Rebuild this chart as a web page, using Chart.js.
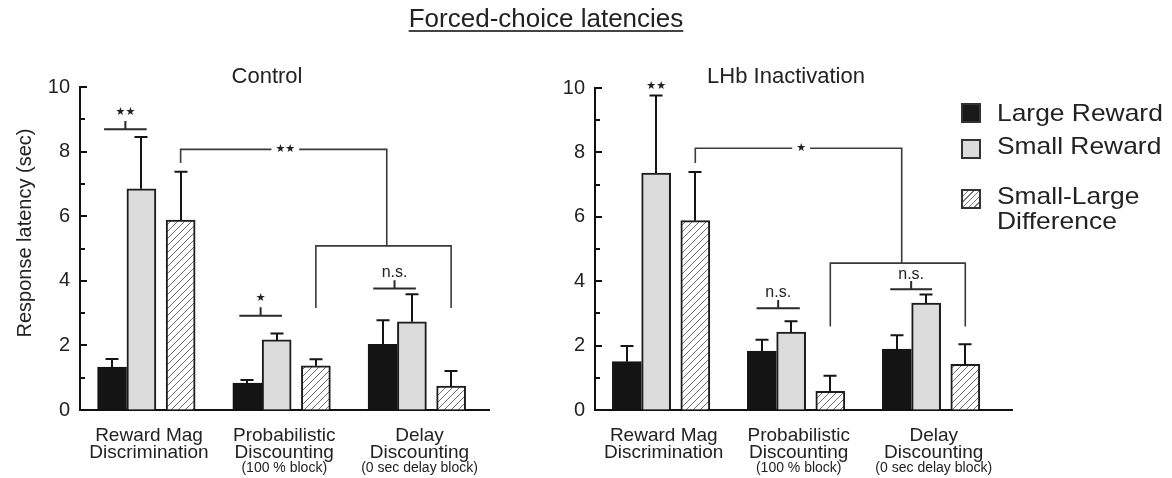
<!DOCTYPE html>
<html>
<head>
<meta charset="utf-8">
<script src="https://cdn.jsdelivr.net/npm/chart.js@4.4.1/dist/chart.umd.min.js"></script>
<style>
html,body{margin:0;padding:0;background:#fff;}
body{width:1172px;height:478px;position:relative;overflow:hidden;font-family:"Liberation Sans",Arial,sans-serif;color:#222;}
canvas{position:absolute;top:0;}
#cL{left:0;}
#cR{left:515px;}
.t{position:absolute;white-space:nowrap;line-height:1;z-index:2;}
.box{position:absolute;left:961px;width:20px;height:20px;box-sizing:border-box;border:2px solid #333;z-index:2;}
</style>
</head>
<body>
<div class="t" style="left:546px;top:5px;font-size:26px;transform:translateX(-50%);text-decoration:underline;text-decoration-thickness:1.5px;text-underline-offset:3px;text-decoration-color:#444;">Forced-choice latencies</div>
<div class="t" style="left:267px;top:65px;font-size:22px;transform:translateX(-50%);">Control</div>
<div class="t" style="left:786px;top:65px;font-size:22px;transform:translateX(-50%);">LHb Inactivation</div>

<div class="box" style="top:103px;background:#1a1a1a;"></div>
<div class="box" style="top:139px;background:#dcdcdc;"></div>
<div class="box" style="top:189px;background:repeating-linear-gradient(135deg,#fff 0 3px,#777 3px 4px);"></div>
<div class="t" style="left:997px;top:101px;font-size:24px;transform:scaleX(1.1);transform-origin:left;">Large Reward</div>
<div class="t" style="left:997px;top:134px;font-size:24px;transform:scaleX(1.1);transform-origin:left;">Small Reward</div>
<div class="t" style="left:997px;top:184px;font-size:24px;transform:scaleX(1.1);transform-origin:left;">Small-Large</div>
<div class="t" style="left:997px;top:209px;font-size:24px;transform:scaleX(1.1);transform-origin:left;">Difference</div>

<canvas id="cL" width="490" height="478" style="width:490px;height:478px;"></canvas>
<canvas id="cR" width="498" height="478" style="width:498px;height:478px;"></canvas>

<script>
// ---------- data ----------
const groupLine1 = ['Reward Mag', 'Probabilistic', 'Delay'];
const groupLine2 = ['Discrimination', 'Discounting', 'Discounting'];
const groupNote  = ['', '(100 % block)', '(0 sec delay block)'];
const yTicks = [0, 2, 4, 6, 8, 10];

const controlLarge    = [1.33, 0.83, 2.03];
const controlLargeErr = [0.25, 0.10, 0.75];
const controlSmall    = [6.85, 2.17, 2.73];
const controlSmallErr = [1.60, 0.20, 0.85];
const controlDiff     = [5.88, 1.37, 0.74];
const controlDiffErr  = [1.50, 0.20, 0.47];

const lhbLarge    = [1.50, 1.83, 1.89];
const lhbLargeErr = [0.49, 0.35, 0.43];
const lhbSmall    = [7.36, 2.42, 3.32];
const lhbSmallErr = [2.41, 0.34, 0.27];
const lhbDiff     = [5.88, 0.58, 1.42];
const lhbDiffErr  = [1.51, 0.48, 0.62];

const controlPairSig = ['**', '*', 'n.s.'];
const lhbPairSig     = ['**', 'n.s.', 'n.s.'];
const controlTaskSig = '**';
const lhbTaskSig     = '*';

// ---------- helpers ----------
const FONT = '"Liberation Sans", Arial, sans-serif';
Chart.defaults.font.family = FONT;
Chart.defaults.color = '#222';

function makeHatch() {
  const c = document.createElement('canvas');
  c.width = 7; c.height = 7;
  const g = c.getContext('2d');
  g.fillStyle = '#fff'; g.fillRect(0, 0, 7, 7);
  g.strokeStyle = '#707070'; g.lineWidth = 1;
  g.beginPath();
  [-7, 0, 7].forEach(k => { g.moveTo(k, 7); g.lineTo(k + 7, 0); });
  g.stroke();
  return g.createPattern(c, 'repeat');
}
const hatch = makeHatch();

const OFF_LARGE = -0.251, OFF_SMALL = -0.034, OFF_DIFF = 0.256;

function datasets(large, largeErr, small, smallErr, diff, diffErr) {
  const common = { borderWidth: 2, barThickness: 29, grouped: false };
  return [
    Object.assign({ label: 'Large Reward', data: large.map((v, i) => ({ x: i + OFF_LARGE, y: v })), errors: largeErr,
      backgroundColor: '#141414', borderColor: '#141414' }, common),
    Object.assign({ label: 'Small Reward', data: small.map((v, i) => ({ x: i + OFF_SMALL, y: v })), errors: smallErr,
      backgroundColor: '#dcdcdc', borderColor: '#1c1c1c' }, common),
    Object.assign({ label: 'Small-Large Difference', data: diff.map((v, i) => ({ x: i + OFF_DIFF, y: v })), errors: diffErr,
      backgroundColor: hatch, borderColor: '#1c1c1c' }, common)
  ];
}

const drawPlugin = {
  id: 'extras',
  afterDatasetsDraw(chart, args, o) {
    const { ctx, scales: { x, y } } = chart;
    ctx.save();
    // error bars
    chart.data.datasets.forEach((ds, di) => {
      const meta = chart.getDatasetMeta(di);
      meta.data.forEach((bar, i) => {
        const v = ds.data[i].y, e = ds.errors[i];
        const px = Math.round(bar.x), p0 = y.getPixelForValue(v), p1 = y.getPixelForValue(v + e);
        ctx.strokeStyle = '#151515'; ctx.lineWidth = 2;
        ctx.beginPath();
        ctx.moveTo(px, p0); ctx.lineTo(px, p1);
        ctx.moveTo(px - 6.5, p1); ctx.lineTo(px + 6.5, p1);
        ctx.stroke();
      });
    });
    // pair brackets
    o.pairs.forEach((p, g) => {
      const lab = p.label;
      const isStar = lab.indexOf('*') >= 0;
      let cx;
      if (p.y != null) {
        const xa = x.getPixelForValue(g + p.x0), xb = x.getPixelForValue(g + p.x1);
        cx = (xa + xb) / 2;
        const py = y.getPixelForValue(p.y), pt = y.getPixelForValue(p.y + 0.26);
        ctx.strokeStyle = '#2a2a2a'; ctx.lineWidth = 2;
        ctx.beginPath();
        ctx.moveTo(xa, py); ctx.lineTo(xb, py);
        ctx.moveTo(cx, py); ctx.lineTo(cx, pt);
        ctx.stroke();
      } else {
        cx = x.getPixelForValue(g + OFF_SMALL);
      }
      ctx.fillStyle = '#222';
      ctx.textAlign = 'center'; ctx.textBaseline = 'middle';
      ctx.font = isStar ? '11px "DejaVu Sans"' : '16px ' + FONT;
      ctx.fillText(isStar ? lab.replace(/\*/g, '\u2605') : lab, cx, y.getPixelForValue(p.ly));
    });
    // task comparison bracket
    const b = o.task;
    const xa = x.getPixelForValue(OFF_DIFF), xm = x.getPixelForValue(b.mid);
    const x1 = x.getPixelForValue(1 + OFF_DIFF), x2 = x.getPixelForValue(2 + OFF_DIFF);
    const yb = y.getPixelForValue(b.start), yt = y.getPixelForValue(b.top), yl = y.getPixelForValue(b.low), yd = y.getPixelForValue(b.drop);
    ctx.strokeStyle = '#3a3a3a'; ctx.lineWidth = 1.6;
    ctx.beginPath();
    ctx.moveTo(xa, yb); ctx.lineTo(xa, yt); ctx.lineTo(xm, yt); ctx.lineTo(xm, yl);
    ctx.moveTo(x1, yd); ctx.lineTo(x1, yl); ctx.lineTo(x2, yl); ctx.lineTo(x2, yd);
    ctx.stroke();
    const lx = x.getPixelForValue(b.labelX);
    ctx.font = '11px "DejaVu Sans"';
    const txt = b.label.replace(/\*/g, '\u2605');
    const w = ctx.measureText(txt).width + 8;
    ctx.fillStyle = '#fff'; ctx.fillRect(lx - w / 2, yt - 5, w, 10);
    ctx.fillStyle = '#222'; ctx.textAlign = 'center'; ctx.textBaseline = 'middle';
    ctx.fillText(txt, lx, yt);
    ctx.restore();
  },
  afterDraw(chart, args, o) {
    const { ctx, chartArea, scales: { x, y } } = chart;
    ctx.save();
    // inward y ticks
    ctx.strokeStyle = '#111'; ctx.lineWidth = 2;
    ctx.beginPath();
    for (let v = 0; v <= 10; v++) {
      const py = Math.round(y.getPixelForValue(v));
      const len = yTicks.includes(v) ? 7 : 5;
      ctx.moveTo(chartArea.left, py); ctx.lineTo(chartArea.left + len, py);
    }
    ctx.stroke();
    // group labels
    ctx.fillStyle = '#222'; ctx.textAlign = 'center'; ctx.textBaseline = 'alphabetic';
    groupLine1.forEach((t, i) => {
      const cx = x.getPixelForValue(i) + 3;
      ctx.font = '19px ' + FONT;
      ctx.fillText(t, cx, 441);
      ctx.fillText(groupLine2[i], cx, 458);
      if (groupNote[i]) { ctx.font = '14px ' + FONT; ctx.fillText(groupNote[i], cx, 472); }
    });
    // y title
    if (o.yTitle) {
      ctx.translate(25, 233);
      ctx.rotate(-Math.PI / 2);
      ctx.font = '20px ' + FONT; ctx.textBaseline = 'middle';
      ctx.fillText(o.yTitle, 0, 0);
    }
    ctx.restore();
  }
};

function makeChart(id, ds, xmin, xmax, top, extras) {
  return new Chart(document.getElementById(id), {
    type: 'bar',
    data: { datasets: ds },
    options: {
      responsive: false, animation: false, devicePixelRatio: 1,
      layout: { padding: { top: top, right: 1, bottom: 0, left: 0 }, autoPadding: false },
      plugins: { legend: { display: false }, tooltip: { enabled: false }, extras: extras },
      scales: {
        x: { type: 'linear', offset: false, min: xmin, max: xmax, afterFit: s => { s.height = 68; },
             ticks: { display: false }, grid: { drawOnChartArea: false, drawTicks: false, offset: false },
             border: { display: true, color: '#111', width: 2 } },
        y: { min: 0, max: 10, afterFit: s => { s.width = 80; },
             ticks: { stepSize: 1, autoSkip: false, padding: 10, color: '#222', font: { size: 20 },
                      callback: v => yTicks.includes(v) ? String(v) : '' },
             grid: { drawOnChartArea: false, drawTicks: false },
             border: { display: true, color: '#111', width: 2 } }
      }
    },
    plugins: [drawPlugin]
  });
}

makeChart('cL', datasets(controlLarge, controlLargeErr, controlSmall, controlSmallErr, controlDiff, controlDiffErr),
  -0.488, 2.536, 87, {
    yTitle: 'Response latency (sec)',
    pairs: [
      { y: 8.69, x0: -0.31, x1: 0.005, label: controlPairSig[0], ly: 9.23 },
      { y: 2.92, x0: -0.31, x1: 0.005, label: controlPairSig[1], ly: 3.47 },
      { y: 3.76, x0: -0.32, x1: -0.005, label: controlPairSig[2], ly: 4.24 }
    ],
    task: { start: 7.65, top: 8.07, mid: 1.78, low: 5.08, drop: 3.16, labelX: 1.03, label: controlTaskSig }
  });

makeChart('cR', datasets(lhbLarge, lhbLargeErr, lhbSmall, lhbSmallErr, lhbDiff, lhbDiffErr),
  -0.487, 2.602, 88, {
    yTitle: null,
    pairs: [
      { y: null, label: lhbPairSig[0], ly: 10.05 },
      { y: 3.16, x0: -0.29, x1: 0.03, label: lhbPairSig[1], ly: 3.64 },
      { y: 3.75, x0: -0.30, x1: 0.01, label: lhbPairSig[2], ly: 4.2 }
    ],
    task: { start: 7.67, top: 8.13, mid: 1.785, low: 4.56, drop: 2.59, labelX: 1.04, label: lhbTaskSig }
  });
</script>
</body>
</html>
